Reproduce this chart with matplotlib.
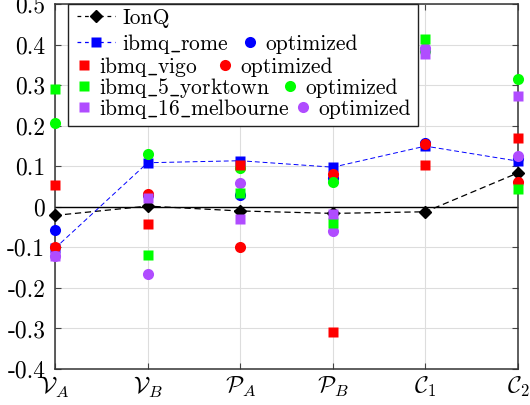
import numpy as np
import matplotlib
matplotlib.use('Agg')
import matplotlib.pyplot as plt
from matplotlib.lines import Line2D
from matplotlib.patches import Rectangle

plt.rcParams['font.family'] = 'serif'
plt.rcParams['font.serif'] = ['cmr10']
plt.rcParams['mathtext.fontset'] = 'cm'
plt.rcParams['axes.unicode_minus'] = False

# data
categories = [r'$\mathcal{V}_A$', r'$\mathcal{V}_B$', r'$\mathcal{P}_A$',
              r'$\mathcal{P}_B$', r'$\mathcal{C}_1$', r'$\mathcal{C}_2$']
ionq = [-0.021, 0.002, -0.010, -0.016, -0.012, 0.084]
rome = [-0.102, 0.109, 0.114, 0.098, 0.150, 0.113]
rome_opt = [-0.058, 0.030, 0.030, 0.072, 0.158, 0.120]
vigo = [0.054, -0.043, 0.104, -0.308, 0.103, 0.170]
vigo_opt = [-0.099, 0.032, -0.099, 0.081, 0.155, 0.062]
york = [0.291, -0.118, 0.034, -0.039, 0.415, 0.044]
york_opt = [0.206, 0.131, 0.096, 0.062, 0.385, 0.316]
melb = [-0.120, 0.022, -0.030, -0.017, 0.377, 0.274]
melb_opt = [-0.120, -0.165, 0.058, -0.059, 0.392, 0.126]
yticks = [-0.4, -0.3, -0.2, -0.1, 0, 0.1, 0.2, 0.3, 0.4, 0.5]
ytick_labels = ['-0.4', '-0.3', '-0.2', '-0.1', '0', '0.1', '0.2', '0.3', '0.4', '0.5']

BLUE, RED, GREEN, PURPLE = '#0000ff', '#ff0000', '#00ff00', '#b04cff'

W, H = 530, 405
fig = plt.figure(figsize=(5.3, 4.05), dpi=100)
ax = fig.add_axes([55 / W, 1 - 369 / H, (518 - 55) / W, (369 - 4.3) / H])
x = np.arange(len(categories))

ax.axhline(0, color='k', lw=1.0, zorder=1.5)

sq = dict(marker='s', ms=6.5, ls='none', mec='none', clip_on=False)
ci = dict(marker='o', ms=8, ls='none', mec='none', clip_on=False)

h_ionq, = ax.plot(x, ionq, color='k', ls=(0, (5, 3)), lw=0.9, marker='D',
                  ms=6, clip_on=False, zorder=3)
h_rome, = ax.plot(x, rome, color=BLUE, ls=(0, (5, 3)), lw=0.7, marker='s',
                  ms=6.5, mec='none', clip_on=False, zorder=3)
# optimized circles
ax.plot(x, rome_opt, color=BLUE, zorder=4, **ci)
ax.plot(x, vigo_opt, color=RED, zorder=4, **ci)
ax.plot(x, york_opt, color=GREEN, zorder=4, **ci)
ax.plot(x, melb_opt, color=PURPLE, zorder=4, **ci)
# raw squares
ax.plot(x, vigo, color=RED, zorder=5, **sq)
ax.plot(x, york, color=GREEN, zorder=5, **sq)
ax.plot(x, melb, color=PURPLE, zorder=5, **sq)

ax.set_xlim(0, len(categories) - 1)
ax.set_ylim(-0.4, 0.5)
ax.set_xticks(x)
ax.set_xticklabels(categories, fontsize=17)
ax.set_yticks(yticks)
ax.set_yticklabels(ytick_labels, fontsize=17)
ax.tick_params(direction='in', length=4, width=0.8, top=True, right=True,
               color='#444444')
ax.tick_params(axis='x', pad=4)
ax.tick_params(axis='y', pad=7)
ax.grid(True, color='#dddddd', lw=0.8)
ax.set_axisbelow(True)
for s in ax.spines.values():
    s.set_linewidth(1.1)
    s.set_color('#333333')

# legend: framed box with free-flowing rows
fig.patches.append(Rectangle((68 / W, 1 - 126 / H), 350 / W, 122 / H,
                             transform=fig.transFigure, facecolor='white',
                             edgecolor='#222222', lw=1.0, zorder=6))

FS = 15.5


def entry(handle, label, px, py, hl):
    leg = fig.legend([handle], [label], loc='center left',
                     bbox_to_anchor=(px / W, 1 - py / H),
                     bbox_transform=fig.transFigure, frameon=False,
                     borderpad=0, borderaxespad=0, handlelength=hl,
                     handletextpad=0.35, fontsize=FS)
    leg.set_zorder(7)


def dot(color, marker, ms):
    return Line2D([], [], color=color, marker=marker, ms=ms, ls='none', mec='none')


entry(Line2D([], [], color='k', ls=(0, (3, 3)), lw=0.9, marker='D', ms=6),
      'IonQ', 77, 18, 1.75)
entry(Line2D([], [], color=BLUE, ls=(0, (3, 3)), lw=0.9, marker='s', ms=6.5,
             mec='none'), r'ibmq$\_$rome', 77, 44, 1.75)
entry(dot(BLUE, 'o', 8), 'optimized', 242.5, 44, 0.7)
entry(dot(RED, 's', 6.5), r'ibmq$\_$vigo', 76, 67, 0.7)
entry(dot(RED, 'o', 8), 'optimized', 217.5, 67, 0.7)
entry(dot(GREEN, 's', 6.5), r'ibmq$\_$5$\_$yorktown', 76, 88, 0.7)
entry(dot(GREEN, 'o', 8), 'optimized', 282.5, 88, 0.7)
entry(dot(PURPLE, 's', 6.5), r'ibmq$\_$16$\_$melbourne', 76, 109, 0.7)
entry(dot(PURPLE, 'o', 8), 'optimized', 295.5, 109, 0.7)

fig.savefig('out.png', dpi=100)
